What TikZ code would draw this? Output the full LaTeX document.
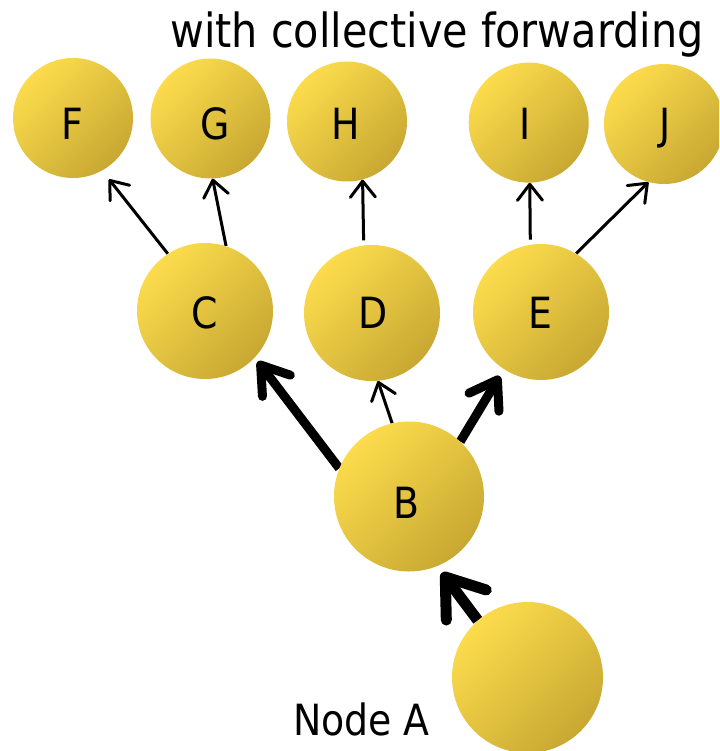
\documentclass[tikz,border=0pt]{standalone}
\usepackage{fontspec}
\setmainfont{DejaVu Sans}[FakeStretch=0.88]
\usetikzlibrary{arrows.meta}
\pgfdeclarelayer{back}
\pgfsetlayers{back,main}
\definecolor{goldhi}{RGB}{252,220,76}
\definecolor{goldlo}{RGB}{200,168,50}

\begin{document}
\begin{tikzpicture}[x=1pt,y=-1pt,
  ball/.style={circle, inner sep=0pt, minimum size=#1,
    top color=goldhi, bottom color=goldlo, shading angle=45},
  letter/.style={anchor=base, inner sep=0pt, font=\fontsize{#1}{#1}\selectfont},
  fine arrow/.style={line width=3pt, -{Straight Barb[length=16pt,width=25pt,round]}},
  bold arrow/.style={line width=9pt, -{Straight Barb[length=26pt,width=35pt,round]}},
  heavy arrow/.style={line width=11pt, -{Straight Barb[length=35pt,width=50pt,round]}}]

\path[use as bounding box, clip] (0,0) rectangle (719,751);

% upper row of receivers
\node[ball=120] (F) at (73,118) {};
\node[ball=120] (G) at (210.5,118.5) {};
\node[ball=120] (H) at (347,121.5) {};
\node[ball=120] (I) at (528.7,122.6) {};
\node[ball=120] (J) at (664,124) {};
% forwarding nodes
\node[ball=136] (C) at (205,311) {};
\node[ball=136] (D) at (372,313) {};
\node[ball=136] (E) at (541,312) {};
\node[ball=150] (B) at (409,496.5) {};
\node[ball=151] (A) at (527.5,677.5) {};

% letters
\node[letter=43] (Ft) at (72,140) {F};
\node[letter=43] (Gt) at (215,140) {G};
\node[letter=43] (Ht) at (346,140) {H};
\node[letter=43] (It) at (525,140) {I};
\node[letter=43] (Jt) at (665,140) {J};
\node[letter=43] (Ct) at (205,328) {C};
\node[letter=43] (Dt) at (373,328) {D};
\node[letter=43] (Et) at (540,328) {E};
\node[letter=43] (Bt) at (406,518) {B};

\node[anchor=base west, inner sep=0pt, font=\fontsize{47}{47}\selectfont] (title) at (170,48) {with collective forwarding};
\node[anchor=base west, inner sep=0pt, font=\fontsize{43}{43}\selectfont] (alabel) at (293,735) {Node A};

% connectors, kept beneath the discs
\begin{pgfonlayer}{back}
\draw[fine arrow, shorten >=11pt] (C.123) -- (F.-61);
\draw[fine arrow] (C.72) -- (G.-88);
\draw[fine arrow, shorten <=5pt] (D.97) -- (H.-75);
\draw[fine arrow, shorten <=5pt] (E.99) -- (I.-89);
\draw[fine arrow] (E.59) -- (J.-105);
\draw[fine arrow] (B.103) -- (D.-85);
\draw[bold arrow, shorten >=5pt] (B.158) -- (C.-43);
\draw[bold arrow, shorten >=8pt] (B.47) -- (E.-123);
\draw[heavy arrow, shorten >=8pt] (A.131) -- (B.-68);
\end{pgfonlayer}
\end{tikzpicture}
\end{document}
